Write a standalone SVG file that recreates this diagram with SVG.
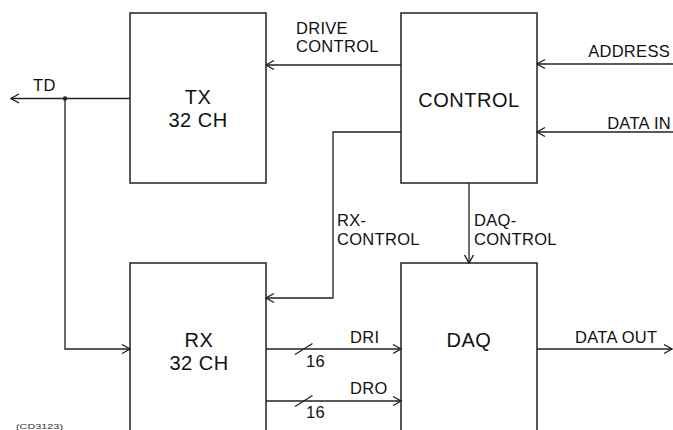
<svg xmlns="http://www.w3.org/2000/svg" width="673" height="430" viewBox="0 0 673 430">
<style>
.box{fill:none;stroke:#222;stroke-width:1.5}
.ln{fill:none;stroke:#222;stroke-width:1.3}
.big{font-family:"Liberation Sans",Arial,sans-serif;font-size:20px;letter-spacing:0.5px;fill:#111;text-anchor:middle}
.lbl{font-family:"Liberation Sans",Arial,sans-serif;font-size:16.5px;letter-spacing:0.3px;fill:#111}
.tiny{font-family:"Liberation Sans",Arial,sans-serif;font-size:8px;fill:#333}
</style>
<defs>
<marker id="ah" markerUnits="userSpaceOnUse" markerWidth="12" markerHeight="12" refX="9" refY="6" orient="auto">
<path d="M1,1.5 L9,6 L1,10.5" fill="none" stroke="#222" stroke-width="1.4"/>
</marker>
</defs>
<g id="tx">
<rect class="box" x="130" y="13" width="136" height="170"/>
<text class="big" x="198" y="104">TX</text>
<text class="big" x="198" y="127">32 CH</text>
</g>
<g id="control">
<rect class="box" x="401" y="13" width="136" height="170"/>
<text class="big" x="469" y="107">CONTROL</text>
</g>
<g id="rx">
<rect class="box" x="130" y="263" width="136" height="180"/>
<text class="big" x="199" y="347">RX</text>
<text class="big" x="199" y="370">32 CH</text>
</g>
<g id="daq">
<rect class="box" x="401" y="263" width="136" height="180"/>
<text class="big" x="469" y="347">DAQ</text>
</g>
<g id="connectors">
<line class="ln" x1="130" y1="98.5" x2="11" y2="98.5" marker-end="url(#ah)"/>
<circle cx="65" cy="98.5" r="2.2" fill="#222"/>
<polyline class="ln" points="65,98.5 65,349 130,349" marker-end="url(#ah)"/>
<line class="ln" x1="401" y1="65" x2="266" y2="65" marker-end="url(#ah)"/>
<line class="ln" x1="673" y1="64" x2="537" y2="64" marker-end="url(#ah)"/>
<line class="ln" x1="673" y1="132" x2="537" y2="132" marker-end="url(#ah)"/>
<polyline class="ln" points="401,132 333,132 333,298 266,298" marker-end="url(#ah)"/>
<line class="ln" x1="469" y1="183" x2="469" y2="263" marker-end="url(#ah)"/>
<line class="ln" x1="266" y1="349" x2="401" y2="349" marker-end="url(#ah)"/>
<line class="ln" x1="295" y1="354.5" x2="312.5" y2="343.5"/>
<line class="ln" x1="266" y1="401" x2="401" y2="401" marker-end="url(#ah)"/>
<line class="ln" x1="295" y1="406.5" x2="312.5" y2="395.5"/>
<line class="ln" x1="537" y1="349" x2="672" y2="349" marker-end="url(#ah)"/>
</g>
<g id="labels">
<text class="lbl" x="33" y="91">TD</text>
<text class="lbl" x="296" y="34">DRIVE</text>
<text class="lbl" x="296" y="51.5">CONTROL</text>
<text class="lbl" x="670" y="57" text-anchor="end">ADDRESS</text>
<text class="lbl" x="671" y="129" text-anchor="end">DATA IN</text>
<text class="lbl" x="337" y="226">RX-</text>
<text class="lbl" x="337" y="245">CONTROL</text>
<text class="lbl" x="474" y="226">DAQ-</text>
<text class="lbl" x="474" y="245">CONTROL</text>
<text class="lbl" x="350" y="343">DRI</text>
<text class="lbl" x="306" y="366.5">16</text>
<text class="lbl" x="350" y="393.5">DRO</text>
<text class="lbl" x="306" y="418">16</text>
<text class="lbl" x="575" y="343">DATA OUT</text>
<text class="tiny" x="16" y="429" textLength="47" lengthAdjust="spacingAndGlyphs">(CD3123)</text>
</g>
</svg>
